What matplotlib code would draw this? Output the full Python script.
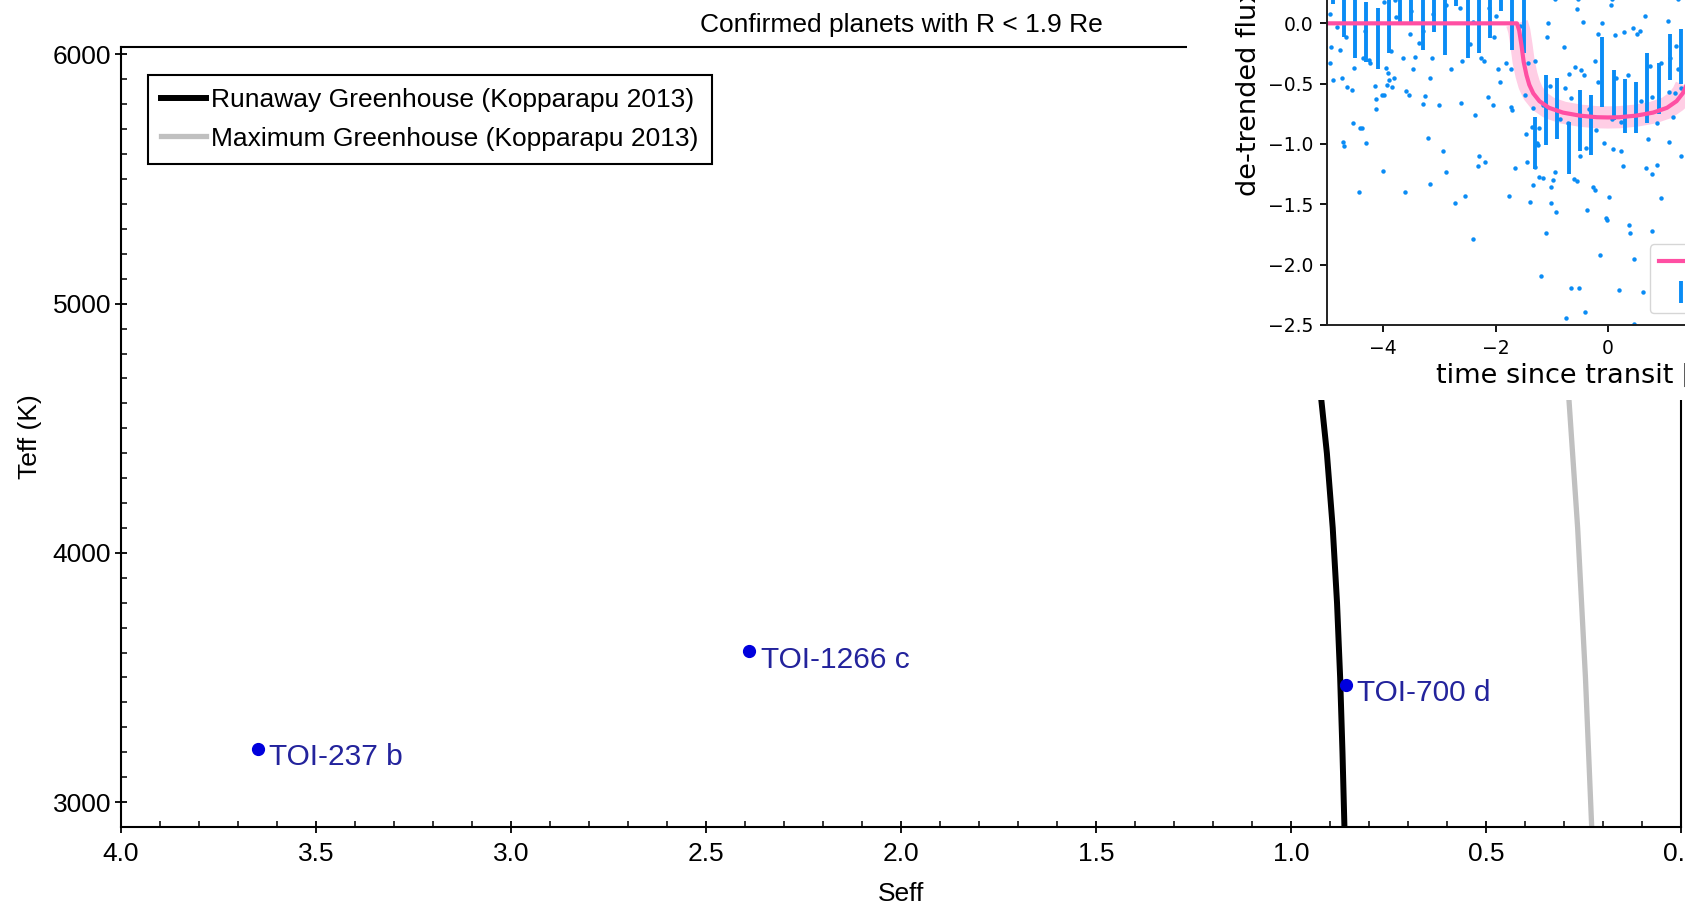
import matplotlib
matplotlib.use("Agg")
import matplotlib.pyplot as plt
from matplotlib.patches import Rectangle
from matplotlib.ticker import MultipleLocator, FormatStrFormatter

# ---- main chart data ----
planet_names = ["TOI-237 b", "TOI-1266 c", "TOI-700 d"]
planet_seff = [3.65, 2.39, 0.86]
planet_teff = [3215, 3605, 3470]

hz_teff = [2900, 3200, 3500, 3800, 4100, 4400, 4700, 5000, 5400, 5800, 6100]
runaway_seff = [0.863, 0.868, 0.874, 0.882, 0.893, 0.908, 0.928, 0.953, 0.994, 1.041, 1.080]
maxgh_seff = [0.229, 0.237, 0.245, 0.255, 0.265, 0.278, 0.291, 0.306, 0.328, 0.352, 0.370]

# ---- inset (light curve) data ----
bin_time = [-4.9, -4.7, -4.5, -4.3, -4.1, -3.9, -3.7, -3.5, -3.3, -3.1, -2.9, -2.7,
            -2.5, -2.3, -2.1, -1.9, -1.7, -1.5, -1.3, -1.1, -0.9, -0.7, -0.5, -0.3,
            -0.1, 0.1, 0.3, 0.5, 0.7, 0.9, 1.1, 1.3]
bin_flux = [0.41, 0.14, -0.04, -0.07, -0.125, 0.0, 0.25, 0.25, 0.03, 0.18, -0.01, 0.39,
            -0.04, 0.0, 0.125, 0.35, 0.03, 0.0, -0.99, -0.72, -0.705, -1.035, -0.805, -0.845,
            -0.405, -0.595, -0.685, -0.695, -0.54, -0.54, -0.28, -0.275]
bin_err = [0.25, 0.25, 0.25, 0.25, 0.25, 0.25, 0.25, 0.25, 0.25, 0.25, 0.25, 0.25,
           0.25, 0.25, 0.25, 0.25, 0.25, 0.25, 0.215, 0.29, 0.25, 0.215, 0.25, 0.25,
           0.29, 0.21, 0.22, 0.21, 0.29, 0.21, 0.19, 0.225]

model_time = [-5.0, -1.62, -1.58, -1.54, -1.50, -1.45, -1.40, -1.33, -1.22, -1.05, -0.80,
              -0.50, -0.20, 0.0, 0.20, 0.50, 0.80, 1.05, 1.22, 1.33, 1.40, 1.45, 1.50,
              1.54, 1.58, 1.62, 5.0]
model_flux = [0.0, 0.0, -0.06, -0.18, -0.32, -0.43, -0.51, -0.58, -0.645, -0.70, -0.74,
              -0.765, -0.778, -0.78, -0.778, -0.765, -0.74, -0.70, -0.645, -0.58, -0.51,
              -0.43, -0.32, -0.18, -0.06, 0.0, 0.0]

lc_time = [-4.95, -4.83, -4.92, -4.76, -4.95, -4.90, -4.73, -4.65, -4.55, -4.52, -4.53, -4.42,
           -4.37, -4.71, -4.70, -4.30, -4.33, -4.66, -4.36, -4.26, -4.23, -4.15, -4.12, -4.12,
           -4.03, -3.99, -3.95, -3.91, -3.90, -3.93, -3.84, -3.81, -3.87, -3.78, -3.79, -3.98,
           -3.65, -3.60, -3.54, -3.47, -3.44, -3.53, -3.50, -3.36, -3.29, -3.25, -3.29, -3.20,
           -3.16, -3.13, -3.00, -2.94, -3.11, -2.88, -2.79, -2.64, -2.59, -2.62, -2.45, -2.40,
           -2.36, -2.26, -2.20, -2.30, -2.32, -2.18, -2.14, -2.05, -2.02, -1.96, -1.92, -1.99,
           -2.11,
           -4.43, -4.01, -3.62, -3.17, -2.88, -2.73, -2.54, -2.40,
           -1.66, -1.30, -1.22, -1.16, -1.34, -1.01, -0.98, -0.94, -1.76, -1.38, -1.02, -0.92,
           -0.37, -0.60, -0.56, -0.27, -0.24, 0.01, -0.04, -0.02, 0.26, 0.67, 0.79, 0.95,
           0.38, 0.40, 0.78, -1.10, -0.14, 0.46, -1.19, -0.65, -0.51, 0.20, 0.63, -0.41,
           -0.75, 0.47,
           -0.95, -0.54, 0.07, 1.24, -0.55, 0.05, 0.65, -1.06, -0.45, -0.11, 1.06, -1.09,
           -0.79, -0.17, 0.12, 0.29, 0.44, 0.57, 0.52, 1.21, -1.57, -1.81, -1.72, -1.43,
           -1.30, -0.23, -0.58, -0.48, -0.42, -0.69, 0.14, 0.35, 0.75, 0.95, 1.24, 1.11,
           -0.18, -1.04, -0.76, -0.66, -1.47, -1.73, -1.71, -1.33, -1.16, -0.85, 0.59, 0.79,
           1.09, 1.19, 1.30, -0.34, -0.21, 1.15, 0.07, 0.23, 0.87, -1.46, -1.35, -1.22,
           -1.26, -1.24, -0.72, -0.07, -0.39, -0.49, 0.09, 0.23, 0.72, 1.09, 1.30, -1.44,
           0.88]
lc_flux = [0.08, -0.03, -0.20, -0.22, -0.33, -0.47, -0.45, -0.53, -0.55, -0.37, -0.83, -0.87,
           -0.87, -0.98, -1.02, -0.99, -0.06, -0.11, -0.29, -0.30, -0.33, -0.52, -0.63, -0.71,
           -0.59, -0.59, -0.37, -0.41, -0.47, -0.51, -0.53, -0.45, -0.23, 0.05, 0.19, 0.18,
           -0.29, -0.56, -0.59, -0.38, -0.28, -0.09, 0.10, -0.16, -0.06, -0.60, -0.67, -0.95,
           -0.45, -0.29, -0.68, -1.06, 0.08, 0.15, -0.38, 0.13, -0.31, -0.66, -0.17, 0.01,
           -0.76, -0.29, -0.31, -1.10, -1.18, -1.15, -0.61, -0.68, -0.11, -0.38, -0.49, 0.06,
           0.13,
           -1.40, -1.22, -1.40, -1.33, -1.23, -1.49, -1.43, -1.79,
           -1.20, -1.19, -1.27, -1.28, -1.34, -1.36, -1.30, -1.23, -1.43, -1.48, -1.49, -1.56,
           -1.55, -1.29, -1.31, -1.36, -1.38, -1.44, -1.61, -1.63, -1.18, -1.20, -1.25, -1.45,
           -1.67, -1.74, -1.72, -1.74, -1.92, -1.95, -2.09, -2.19, -2.19, -2.21, -2.23, -2.39,
           -2.44, -2.49,
           0.20, 0.20, 0.20, 0.20, 0.12, 0.15, 0.06, 0.00, 0.01, 0.00, 0.02, -0.11,
           -0.20, -0.09, -0.10, -0.07, -0.04, -0.06, -0.09, -0.19, -0.02, -0.33, -0.38, -0.33,
           -0.31, -0.31, -0.36, -0.39, -0.43, -0.42, -0.45, -0.43, -0.35, -0.33, -0.38, -0.29,
           -0.49, -0.52, -0.54, -0.62, -0.59, -0.69, -0.72, -0.70, -0.68, -0.79, -0.64, -0.61,
           -0.57, -0.58, -0.54, -0.71, -0.88, -0.78, -0.79, -0.82, -0.83, -0.92, -0.86, -0.87,
           -0.99, -1.01, -0.83, -0.99, -1.03, -1.10, -1.04, -1.06, -0.96, -0.98, -1.10, -1.15,
           -1.17]

W, H = 1685, 907
fig = plt.figure(figsize=(W / 100, H / 100), dpi=100)

main_font = "Liberation Sans"
ax = fig.add_axes([121 / W, 80 / H, 1560 / W, 780 / H])

ax.plot(runaway_seff, hz_teff, color="black", lw=4.3,
        label="Runaway Greenhouse (Kopparapu 2013)", zorder=2)
ax.plot(maxgh_seff, hz_teff, color="#c0c0c0", lw=3.8,
        label="Maximum Greenhouse (Kopparapu 2013)", zorder=2)
ax.plot(planet_seff, planet_teff, "o", color="#0000dd", ms=8.5, zorder=3)
for name, s, t in zip(planet_names, planet_seff, planet_teff):
    ax.annotate(name, (s, t), xytext=(8.5, -6), textcoords="offset points",
                ha="left", va="center", fontsize=21.5, color="#23239c",
                family=main_font, zorder=4)

ax.set_xlim(4.0, 0.0)
ax.set_ylim(2900, 6030)
ax.xaxis.set_major_locator(MultipleLocator(0.5))
ax.xaxis.set_minor_locator(MultipleLocator(0.1))
ax.xaxis.set_major_formatter(FormatStrFormatter("%.1f"))
ax.yaxis.set_major_locator(MultipleLocator(1000))
ax.yaxis.set_minor_locator(MultipleLocator(100))
ax.tick_params(which="major", direction="inout", length=8, width=1.3, labelsize=19)
ax.tick_params(which="minor", direction="in", length=4, width=1.1)
ax.tick_params(axis="x", pad=7)
ax.tick_params(axis="y", pad=3)
for lab in ax.get_xticklabels() + ax.get_yticklabels():
    lab.set_family(main_font)
for sp in ax.spines.values():
    sp.set_linewidth(1.5)

ax.set_xlabel("Seff", fontsize=19, family=main_font, labelpad=11)
ax.set_ylabel("Teff (K)", fontsize=19, family=main_font, labelpad=8)
ax.set_title("Confirmed planets with R < 1.9 Re", fontsize=19, family=main_font, pad=11)

leg = ax.legend(loc="upper left", bbox_to_anchor=(148 / W, 1 - 75 / H),
                bbox_transform=fig.transFigure, borderaxespad=0, fancybox=False,
                edgecolor="black", framealpha=1, handlelength=1.7, handletextpad=0.2,
                labelspacing=0.55, borderpad=0.5, prop={"family": main_font, "size": 19})
leg.get_frame().set_linewidth(1.5)

# white patch under the pasted light-curve panel
fig.add_artist(Rectangle((1187 / W, 1 - 400 / H), 1 - 1187 / W, 400 / H,
                         transform=fig.transFigure, facecolor="white",
                         edgecolor="none", zorder=5))

# ---- inset light curve ----
pink = "#ff4fa3"
blue = "#0a8cf5"
ins = fig.add_axes([1327 / W, 1 - 325 / H, 562 / W, 543 / H])
ins.set_zorder(10)
band_t = model_time[1:-1]
band_f = model_flux[1:-1]
ins.plot(band_t, band_f, color=pink, lw=16, alpha=0.28, solid_capstyle="butt",
         solid_joinstyle="round")
ins.plot(lc_time, lc_flux, "o", ms=3.2, mew=0, color=blue)
eb = ins.errorbar(bin_time, bin_flux, yerr=bin_err, fmt="none", ecolor=blue,
                  elinewidth=2.8, label="binned data")
mline, = ins.plot(model_time, model_flux, color=pink, lw=3, label="model")
ins.set_xlim(-5, 5)
ins.set_ylim(-2.5, 2.0)
ins.set_xlabel("time since transit [hours]", fontsize=19.5, family="DejaVu Sans")
ins.set_ylabel("de-trended flux [ppt]", fontsize=19.5, family="DejaVu Sans")
ins.tick_params(labelsize=13.5, length=5, width=1.3, pad=5)
for sp in ins.spines.values():
    sp.set_linewidth(1.4)
    sp.set_color("#222222")
ins.legend([mline, eb], ["model", "binned data"], loc="lower left",
           bbox_to_anchor=((1650 - 1327) / 562, (325 - 313) / 543), borderaxespad=0,
           fontsize=16)

fig.savefig("out.png", dpi=100)
